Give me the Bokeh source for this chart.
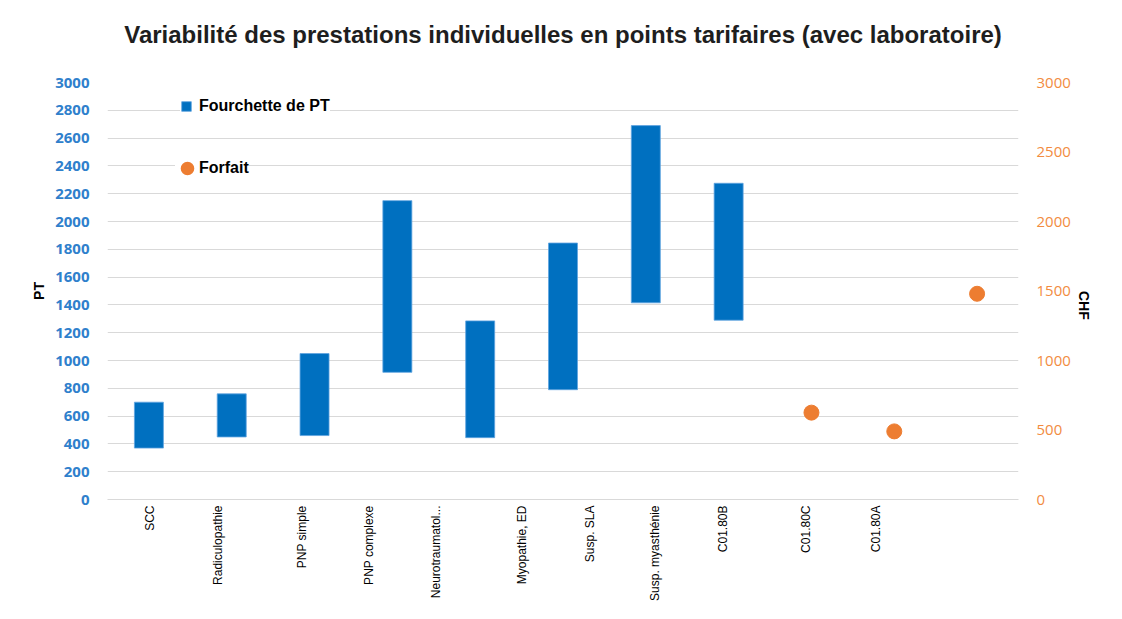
import math
from bokeh.plotting import figure
from bokeh.models import (Range1d, LinearAxis, FixedTicker, Legend, LegendItem, ColumnDataSource, Title)
from bokeh.embed import file_html
from bokeh.resources import INLINE

# ---- data ----
title_text = "Variabilité des prestations individuelles en points tarifaires (avec laboratoire)"
categories = ["SCC", "Radiculopathie", "PNP simple", "PNP complexe", "Neurotraumatol...",
              "Myopathie, ED", "Susp. SLA", "Susp. myasthénie", "C01.80B", "C01.80C", "C01.80A"]
pt_low = [370, 450, 460, 915, 445, 790, 1415, 1290]
pt_high = [700, 760, 1050, 2150, 1285, 1845, 2690, 2275]
forfait_chf = [625, 490, 1480]
pt_ticks = list(range(0, 3001, 200))
chf_ticks = list(range(0, 3001, 500))

# label positions along the slot axis (as in the original, slightly offset)
label_pos = [0.51, 1.33, 2.35, 3.16, 3.97, 5.0, 5.82, 6.61, 7.43, 8.43, 9.28]

BLUE = "#0070C0"
ORANGE = "#ED7D31"
n_slots = len(pt_low) + len(forfait_chf)

p = figure(width=1106, height=603, output_backend="svg", toolbar_location=None,
           x_range=Range1d(0, n_slots), y_range=Range1d(0, 3000),
           min_border_left=107, min_border_right=88, min_border_top=82, min_border_bottom=104)

p.title.text = title_text
p.title.text_font = "Liberation Sans"
p.title.text_font_size = "24px"
p.title.text_font_style = "bold"
p.title.text_color = "#1E1E1E"
p.title.align = "center"
p.title.standoff = 32
# thin spacer between the title and the plot frame
p.add_layout(Title(text=" ", text_font_size="1px", standoff=16), "above")

p.outline_line_color = None
p.xgrid.visible = False
p.ygrid.grid_line_color = "#D9D9D9"
p.ygrid.grid_line_width = 1
p.ygrid.ticker = FixedTicker(ticks=pt_ticks)

bar_x = [i + 0.5 for i in range(len(pt_low))]
bars = p.vbar(x=bar_x, bottom=pt_low, top=pt_high, width=0.35,
              fill_color=BLUE, line_color="#5FA3E0", line_width=0.8)

p.extra_y_ranges = {"chf": Range1d(0, 3000)}
dot_x = [len(pt_low) + i + 0.5 for i in range(len(forfait_chf))]
dots = p.scatter(x=dot_x, y=forfait_chf, y_range_name="chf", size=15,
                 fill_color=ORANGE, line_color=ORANGE)

# left axis
ya = p.yaxis[0]
ya.ticker = FixedTicker(ticks=pt_ticks)
ya.axis_label = "PT"
ya.axis_label_text_font = "Liberation Sans"
ya.axis_label_text_font_style = "bold"
ya.axis_label_text_font_size = "14px"
ya.axis_label_text_color = "#000000"
ya.axis_label_standoff = 5
ya.major_label_text_font = "Open Sans"
ya.major_label_text_font_style = "bold"
ya.major_label_text_font_size = "15px"
ya.major_label_text_color = "#2F80CC"
ya.major_label_standoff = 18
ya.axis_line_color = None
ya.major_tick_line_color = None
ya.minor_tick_line_color = None
ya.major_tick_out = 0
ya.minor_tick_out = 0

# right axis
ra = LinearAxis(y_range_name="chf", ticker=FixedTicker(ticks=chf_ticks))
ra.axis_label = "CHF"
ra.axis_label_orientation = -math.pi / 2
ra.axis_label_text_font = "Liberation Sans"
ra.axis_label_text_font_style = "bold"
ra.axis_label_text_font_size = "14px"
ra.axis_label_text_color = "#000000"
ra.axis_label_standoff = 10
ra.major_label_text_font = "Open Sans"
ra.major_label_text_font_size = "15px"
ra.major_label_text_color = "#F28C3F"
ra.major_label_standoff = 18
ra.axis_line_color = None
ra.major_tick_line_color = None
ra.minor_tick_line_color = None
ra.major_tick_out = 0
ra.minor_tick_out = 0
p.add_layout(ra, "right")

# bottom axis
xa = p.xaxis[0]
xa.ticker = FixedTicker(ticks=label_pos)
xa.major_label_overrides = {pos: lab for pos, lab in zip(label_pos, categories)}
xa.major_label_orientation = math.pi / 2
xa.major_label_text_font = "Liberation Sans"
xa.major_label_text_font_size = "12px"
xa.major_label_text_color = "#000000"
xa.major_label_standoff = 6
xa.axis_label_standoff = 0
xa.axis_line_color = "#D9D9D9"
xa.major_tick_line_color = None
xa.minor_tick_line_color = None
xa.major_tick_out = 0
xa.minor_tick_out = 0

# legends (the orange legend swatch uses an invisible NaN point so it can be drawn larger)
leg_src = ColumnDataSource(data=dict(x=[float("nan")], y=[float("nan")]))
dot_leg = p.scatter(x="x", y="y", source=leg_src, size=10, line_width=4,
                    fill_color=ORANGE, line_color=ORANGE)
leg1 = Legend(items=[LegendItem(label="Fourchette de PT", renderers=[bars])],
              location=(73, 382), glyph_width=12, glyph_height=12, padding=0, margin=0,
              label_standoff=7, label_text_font="Liberation Sans", label_text_font_size="16px",
              label_text_font_style="bold", label_text_color="#000000", label_height=22,
              background_fill_color="white", background_fill_alpha=1.0, border_line_color=None)
leg2 = Legend(items=[LegendItem(label="Forfait", renderers=[dot_leg])],
              location=(68, 317), glyph_width=24, glyph_height=28, padding=0, margin=0,
              label_standoff=0, label_text_font="Liberation Sans", label_text_font_size="16px",
              label_text_font_style="bold", label_text_color="#000000",
              background_fill_color="white", background_fill_alpha=1.0, border_line_color=None)
p.add_layout(leg1, "center")
p.add_layout(leg2, "center")

open("out.html", "w").write(file_html(p, INLINE))
